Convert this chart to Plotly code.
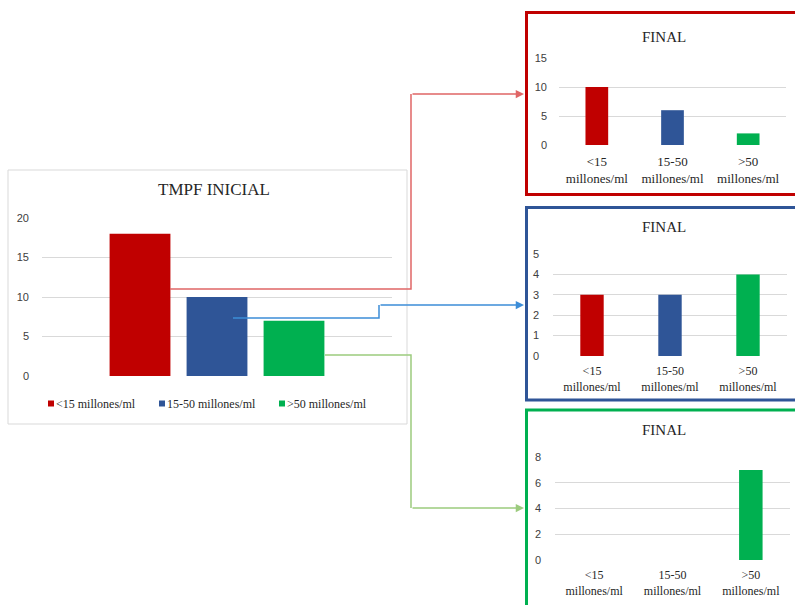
import plotly.graph_objects as go

# Sperm concentration classes and counts
categorias = ["<15 millones/ml", "15-50 millones/ml", ">50 millones/ml"]
etiquetas_eje = ["&lt;15<br>millones/ml", "15-50<br>millones/ml", "&gt;50<br>millones/ml"]
colores = ["#C00000", "#2F5597", "#00B050"]

inicial = [18, 10, 7]          # TMPF INICIAL
final_rojo = [10, 6, 2]        # FINAL, group starting <15
final_azul = [3, 3, 4]         # FINAL, group starting 15-50
final_verde = [0, 0, 7]        # FINAL, group starting >50

W, H = 795, 605


def px(x):
    return x / W


def py(y):
    return 1 - y / H


def esc(s):
    return s.replace("<", "&lt;").replace(">", "&gt;")


fig = go.Figure()

# Main chart: one group with three bars
for nombre, valor, color in zip(categorias, inicial, colores):
    fig.add_trace(go.Bar(x=["TMPF"], y=[valor], name=nombre, marker_color=color,
                         marker_line_width=0, xaxis="x", yaxis="y", showlegend=False))

# Three FINAL charts
finales = [(final_rojo, "x2", "y2"), (final_azul, "x3", "y3"), (final_verde, "x4", "y4")]
for valores, xa, ya in finales:
    fig.add_trace(go.Bar(x=categorias, y=valores, marker_color=colores, marker_line_width=0,
                         width=0.3, xaxis=xa, yaxis=ya, showlegend=False))

tick_font = dict(family="Liberation Sans", size=11, color="#404040")
serif = "Liberation Serif"
grid = "#D9D9D9"


def yax(domain, rng, dtick, standoff, anchor):
    return dict(domain=domain, anchor=anchor, range=rng, dtick=dtick, showgrid=True,
                gridcolor=grid, gridwidth=1, zeroline=False, showline=False,
                tickfont=tick_font, ticklabelstandoff=standoff, fixedrange=True,
                automargin=False)


def xax(domain, anchor, size, standoff):
    return dict(domain=domain, anchor=anchor, type="category", showgrid=False,
                zeroline=False, showline=False, tickmode="array", tickvals=categorias,
                ticktext=etiquetas_eje, tickfont=dict(family=serif, size=size, color="#262626"),
                ticklabelstandoff=standoff, fixedrange=True, automargin=False)


fig.update_layout(
    width=W, height=H, margin=dict(l=0, r=0, t=0, b=0, pad=0, autoexpand=False),
    paper_bgcolor="white", plot_bgcolor="white",
    barmode="group", bargap=0.34, bargroupgap=0.21,
    xaxis=dict(domain=[px(42), px(392)], anchor="y", type="category", showticklabels=False,
               showgrid=False, zeroline=False, showline=False, fixedrange=True,
               automargin=False),
    yaxis=yax([py(376), py(218)], [0, 20], 5, 12, "x"),
    xaxis2=xax([px(559), px(786)], "y2", 13, 7),
    yaxis2=yax([py(145), py(58)], [0, 15], 5, 11, "x2"),
    xaxis3=xax([px(553), px(787)], "y3", 12, 6),
    yaxis3=yax([py(356), py(254)], [0, 5], 1, 13, "x3"),
    xaxis4=xax([px(555), px(790)], "y4", 12, 6),
    yaxis4=yax([py(560), py(457)], [0, 8], 2, 13, "x4"),
    showlegend=False,
)

shapes = []
annotations = []


def texto(t, x, y, size, xanchor="center"):
    return dict(text=t, x=px(x), y=py(y), xref="paper", yref="paper", xanchor=xanchor,
                yanchor="middle", showarrow=False,
                font=dict(family=serif, size=size, color="#262626"))


# Frame of the main chart
shapes.append(dict(type="rect", xref="paper", yref="paper", x0=px(8), x1=px(407),
                   y0=py(424), y1=py(170), line=dict(color="#D9D9D9", width=1), layer="below"))

# Coloured frames of the FINAL charts
marcos = [(12.5, 194.5), (207.5, 400), (410, 612)]
for (top, bottom), color in zip(marcos, colores):
    shapes.append(dict(type="rect", xref="paper", yref="paper", x0=px(526.5), x1=px(800),
                       y0=py(bottom), y1=py(top), line=dict(color=color, width=3)))

# Titles
annotations.append(texto("TMPF INICIAL", 214, 189, 17))
for ty in (37, 227, 430):
    annotations.append(texto("FINAL", 664, ty, 15))

# Legend of the main chart
leyenda_x = [48, 159, 279]
for nombre, color, lx in zip(categorias, colores, leyenda_x):
    shapes.append(dict(type="rect", xref="paper", yref="paper", x0=px(lx), x1=px(lx + 6),
                       y0=py(406.5), y1=py(400.5), fillcolor=color, line=dict(width=0)))
    annotations.append(texto(esc(nombre), lx + 6, 403.5, 12, xanchor="left"))

# Connectors from each initial bar to its FINAL chart
conectores = [
    ([(170, 289), (411, 289), (411, 94)], "#E06666"),
    ([(233, 318), (379, 318), (379, 305)], "#3C8DD8"),
    ([(325, 355), (411, 355), (411, 508)], "#9CCB7E"),
]
for pts, lc in conectores:
    path = "M " + " L ".join(f"{px(x):.5f},{py(y):.5f}" for x, y in pts)
    shapes.append(dict(type="path", xref="paper", yref="paper", path=path,
                       line=dict(color=lc, width=1.5)))
    x_end, y_end = pts[-1]
    annotations.append(dict(text="", x=px(524), y=py(y_end), xref="paper", yref="paper",
                            ax=-(524 - x_end), ay=0, showarrow=True, arrowhead=2,
                            arrowsize=1.1, arrowwidth=1.5, arrowcolor=lc, standoff=0))

fig.update_layout(shapes=shapes, annotations=annotations)

fig.write_html("out.html")
